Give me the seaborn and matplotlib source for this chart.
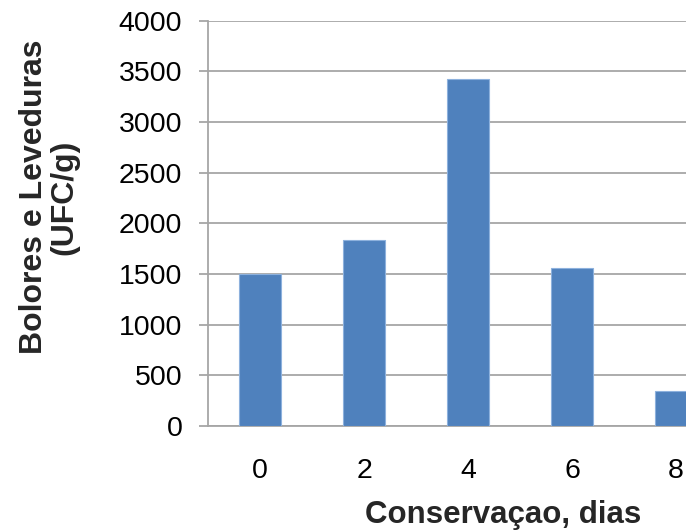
import matplotlib
matplotlib.use("Agg")
import matplotlib.pyplot as plt
import seaborn as sns
import pandas as pd

# Yeast and mould counts over storage time
dias = ["0", "2", "4", "6", "8"]
ufc = [1500, 1835, 3425, 1555, 345]
y_ticks = [0, 500, 1000, 1500, 2000, 2500, 3000, 3500, 4000]

df = pd.DataFrame({"dias": dias, "ufc": ufc})

sns.set_theme(style="white")
plt.rcParams["font.family"] = ["Liberation Sans", "DejaVu Sans"]

W, H = 686, 531
fig = plt.figure(figsize=(W / 100, H / 100), dpi=100)
ax = fig.add_axes([208 / W, 105 / H, 520 / W, 405.3 / H])

sns.barplot(data=df, x="dias", y="ufc", order=dias, color="#4F81BD",
            width=0.4, saturation=1, edgecolor="#8DB1DD", linewidth=0.8,
            ax=ax, zorder=3)

ax.set_xlim(-0.5, 4.5)
ax.set_ylim(0, 4000)
ax.set_yticks(y_ticks)
ax.set_yticklabels([str(t) for t in y_ticks])
ax.yaxis.grid(True, color="#A6A6A6", linewidth=1.3, zorder=0)
ax.set_axisbelow(True)

for s in ["top", "right"]:
    ax.spines[s].set_visible(False)
for s in ["left", "bottom"]:
    ax.spines[s].set_color("#A6A6A6")
    ax.spines[s].set_linewidth(1.3)

ax.tick_params(axis="y", which="major", left=True, length=6.5, width=1.3,
               color="#A6A6A6", pad=12, labelsize=20.5, labelcolor="black")
ax.tick_params(axis="x", which="major", bottom=False, pad=17, labelsize=20.5,
               labelcolor="black")

ax.set_xlabel("")
ax.set_ylabel("")

fig.text(503.5 / W, 1 - 515 / H, "Conservaçao, dias", ha="center", va="center",
         fontsize=22.5, fontweight="bold")
fig.text(49 / W, 1 - 197 / H, "Bolores e Leveduras\n(UFC/g)", ha="center",
         va="center", rotation=90, fontsize=23, fontweight="bold",
         linespacing=1.0, multialignment="center")

fig.savefig("out.png", dpi=100)
